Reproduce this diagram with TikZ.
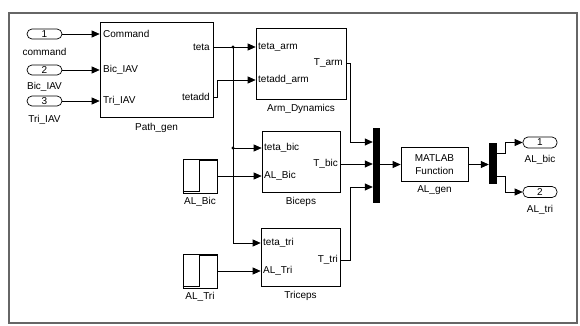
\documentclass[tikz,border=0pt]{standalone}
\usepackage{fontspec}
\setmainfont{Liberation Sans}
\usetikzlibrary{arrows.meta}
\begin{document}
\begin{tikzpicture}[x=1pt,y=-1pt,
  every node/.style={font=\fontsize{10}{11}\selectfont, inner sep=0pt},
  blk/.style={draw=black, line width=0.7pt, fill=white},
  port/.style={draw=black, line width=0.7pt, rounded corners=5pt, minimum width=35pt, minimum height=10pt},
  wire/.style={line width=0.7pt},
  sig/.style={wire, -{Triangle[length=8pt,width=7pt]}},
  bar/.style={fill=black, draw=black},
  lbl/.style={anchor=center}]
\useasboundingbox (0,0) rectangle (580,326);
\fill[white] (0,0) rectangle (580,326);
\draw[line width=1.2pt, draw=gray!80!black] (9,13) rectangle (577,323);
% inports
\node[port] (in1) at (44.5,34) {1};
\node[port] (in2) at (44.5,70) {2};
\node[port] (in3) at (44.5,101) {3};
\node[lbl] (in1l) at (44.5,52) {command};
\node[lbl] (in2l) at (44.5,87) {Bic\_IAV};
\node[lbl] (in3l) at (44.5,120) {Tri\_IAV};
% blocks
\node[blk, minimum width=113pt, minimum height=95pt] (pg) at (156.5,69.5) {};
\node[lbl] (pgl) at (156.5,128) {Path\_gen};
\node[blk, minimum width=90pt, minimum height=71pt] (arm) at (301,63.5) {};
\node[lbl] (arml) at (301,109) {Arm\_Dynamics};
\node[blk, minimum width=78pt, minimum height=61pt] (bic) at (301,161.5) {};
\node[lbl] (bicl) at (301,202) {Biceps};
\node[blk, minimum width=79pt, minimum height=58pt] (tri) at (300.5,257) {};
\node[lbl] (tril) at (300.5,296) {Triceps};
\node[blk, minimum width=34pt, minimum height=34pt] (sb) at (200,176) {};
\node[lbl] (sbl) at (200,202) {AL\_Bic};
\node[blk, minimum width=34pt, minimum height=34pt] (st) at (200,271) {};
\node[lbl] (stl) at (200,297) {AL\_Tri};
\node[bar, minimum width=6pt, minimum height=74pt] (mux) at (376,165) {};
\node[blk, minimum width=67pt, minimum height=34pt, align=center] (ml) at (434.5,164.5) {MATLAB\\[2pt]Function};
\node[lbl] (mll) at (434.5,190) {AL\_gen};
\node[bar, minimum width=7pt, minimum height=40pt] (dmx) at (492.5,163) {};
\node[port, minimum width=34pt, minimum height=11pt] (out1) at (540,142.5) {1};
\node[port, minimum width=34pt, minimum height=11pt] (out2) at (540,192) {2};
\node[lbl] (o1l) at (540,160) {AL\_bic};
\node[lbl] (o2l) at (540,210) {AL\_tri};
% step icons
\foreach \s in {sb,st}{
  \draw[line width=0.6pt] ([shift={(0,-2)}]\s.south west) -- ([shift={(17,-2)}]\s.south west) -- ([shift={(17,2)}]\s.north west) -- ([shift={(0,2)}]\s.north east);
}
% port labels
\node[anchor=west] (pgi1) at (103,34) {Command};
\node[anchor=west] (pgi2) at (103,70) {Bic\_IAV};
\node[anchor=west] (pgi3) at (103,101) {Tri\_IAV};
\node[anchor=east] (pgo1) at (210,47) {teta};
\node[anchor=east] (pgo2) at (210,97) {tetadd};
\node[anchor=west] (armi1) at (258,47) {teta\_arm};
\node[anchor=west] (armi2) at (258,80) {tetadd\_arm};
\node[anchor=east] (armo) at (343,63) {T\_arm};
\node[anchor=west] (bici1) at (264,148) {teta\_bic};
\node[anchor=west] (bici2) at (264,176) {AL\_Bic};
\node[anchor=east] (bico) at (338,164) {T\_bic};
\node[anchor=west] (trii1) at (263,243) {teta\_tri};
\node[anchor=west] (trii2) at (263,271) {AL\_Tri};
\node[anchor=east] (trio) at (338,260) {T\_tri};
% branch points
\coordinate (b1) at (233,47);
\coordinate (b2) at (233,148);
\fill (b1) circle (1.6);
\fill (b2) circle (1.6);
% wires
\draw[sig] (in1.east) -- (pg.west |- in1.east);
\draw[sig] (in2.east) -- (pg.west |- in2.east);
\draw[sig] (in3.east) -- (pg.west |- in3.east);
\draw[sig] (pg.east |- b1) -- (arm.west |- b1);
\draw[sig] (pg.east |- pgo2) -- (217,97) -- (217,80) -- (arm.west |- armi2);
\draw[wire] (b1) -- (b2);
\draw[sig] (b2) -- (bic.west |- b2);
\draw[sig] (b2) -- (233,243) -- (tri.west |- trii1);
\draw[sig] (sb.east) -- (bic.west |- sb.east);
\draw[sig] (st.east) -- (tri.west |- st.east);
\draw[sig] (arm.east |- armo) -- (350,63) -- (350,142) -- (mux.west |- 0,142);
\draw[sig] (bic.east |- bico) -- (mux.west |- bico);
\draw[sig] (tri.east |- trio) -- (350,260) -- (350,187) -- (mux.west |- 0,187);
\draw[sig] (mux.east |- ml.west) -- (ml.west);
\draw[sig] (ml.east) -- (dmx.west |- ml.east);
\draw[sig] (dmx.east |- 0,153) -- (505,153) -- (505,142.5) -- (out1.west);
\draw[sig] (dmx.east |- 0,176) -- (505,176) -- (505,192) -- (out2.west);
\end{tikzpicture}
\end{document}
